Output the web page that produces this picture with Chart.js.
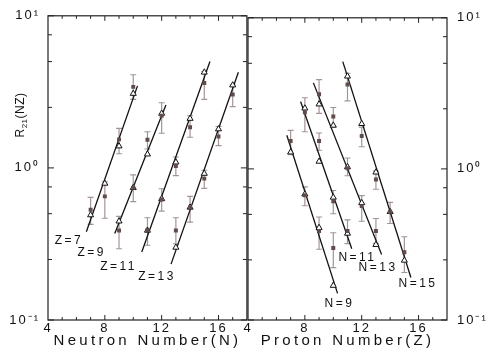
<!DOCTYPE html>
<html><head><meta charset="utf-8">
<script src="https://cdn.jsdelivr.net/npm/chart.js@4.4.1/dist/chart.umd.min.js"></script>
<style>
html,body{margin:0;padding:0;background:#fff;}
#wrap{position:relative;width:488px;height:353px;overflow:hidden;background:#fff;}
canvas{position:absolute;top:0;}
#cL{left:0;width:252px;height:353px;}
#cR{left:240px;width:248px;height:353px;}
</style></head><body>
<div id="wrap"><canvas id="cL" width="252" height="353"></canvas><canvas id="cR" width="248" height="353"></canvas></div>
<script>
// ---------- axis ticks ----------
const xTickValues = [4, 8, 12, 16];
const yMajor = [0.1, 1, 10];
const yMajorLabels = ['10\u207B\u00B9', '10\u2070', '10\u00B9'];
const yMinor = [0.25, 0.5, 0.75, 2.5, 5, 7.5];

// ---------- left panel: R21 vs neutron number N (fixed Z) ----------
const Z7_N = [7, 8, 9, 10];
const Z7_calc = [0.49, 0.79, 1.39, 3.08];
const Z7_exp = [0.53, 0.65, 1.54, 3.41];
const Z7_lo = [0.425, 0.467, 1.24, 2.82];
const Z7_hi = [0.64, 0.81, 1.82, 4.1];
const Z7_fitN = [6.7, 10.3];
const Z7_fitR = [0.38, 3.46];

const Z9_N = [9, 10, 11, 12];
const Z9_calc = [0.446, 0.74, 1.23, 2.28];
const Z9_exp = [0.388, 0.74, 1.53, 2.20];
const Z9_lo = [0.294, 0.60, 1.33, 1.69];
const Z9_hi = [0.48, 0.90, 1.73, 2.68];
const Z9_fitN = [8.7, 12.3];
const Z9_fitR = [0.37, 2.59];

const Z11_N = [11, 12, 13, 14, 15];
const Z11_calc = [0.388, 0.626, 1.09, 2.11, 4.25];
const Z11_exp = [0.39, 0.62, 1.03, 1.85, 3.62];
const Z11_lo = [0.31, 0.52, 0.89, 1.59, 2.82];
const Z11_hi = [0.47, 0.73, 1.18, 2.2, 4.3];
const Z11_fitN = [10.6, 15.4];
const Z11_fitR = [0.28, 5.0];

const Z13_N = [13, 14, 15, 16, 17];
const Z13_calc = [0.30, 0.55, 0.918, 1.80, 3.50];
const Z13_exp = [0.388, 0.55, 0.85, 1.61, 3.04];
const Z13_lo = [0.317, 0.44, 0.734, 1.40, 2.53];
const Z13_hi = [0.47, 0.65, 0.966, 1.87, 3.52];
const Z13_fitN = [12.66, 17.4];
const Z13_fitR = [0.233, 4.25];

// ---------- right panel: R21 vs proton number Z (fixed N) ----------
const N9_Z = [7, 8, 9, 10];
const N9_calc = [1.29, 0.68, 0.408, 0.169];
const N9_exp = [1.53, 0.67, 0.388, 0.30];
const N9_lo = [1.24, 0.57, 0.294, 0.222];
const N9_hi = [1.8, 0.76, 0.48, 0.378];
const N9_fitZ = [6.73, 10.3];
const N9_fitR = [1.67, 0.150];

const N11_Z = [8, 9, 10, 11];
const N11_calc = [2.52, 1.12, 0.648, 0.374];
const N11_exp = [2.37, 1.53, 0.61, 0.388];
const N11_lo = [1.76, 1.33, 0.505, 0.32];
const N11_hi = [2.96, 1.73, 0.72, 0.46];
const N11_fitZ = [7.7, 11.3];
const N11_fitR = [2.79, 0.296];

const N13_Z = [9, 10, 11, 12, 13];
const N13_calc = [2.68, 1.94, 1.03, 0.596, 0.315];
const N13_exp = [3.12, 2.22, 1.01, 0.567, 0.388];
const N13_lo = [2.33, 1.89, 0.90, 0.45, 0.32];
const N13_hi = [3.9, 2.55, 1.18, 0.665, 0.47];
const N13_fitZ = [8.6, 13.4];
const N13_fitR = [3.71, 0.271];

const N15_Z = [11, 12, 13, 14, 15];
const N15_calc = [4.1, 1.99, 0.95, 0.52, 0.248];
const N15_exp = [3.62, 1.65, 0.85, 0.52, 0.281];
const N15_lo = [2.82, 1.40, 0.734, 0.435, 0.206];
const N15_hi = [4.3, 1.89, 0.966, 0.60, 0.356];
const N15_fitZ = [10.67, 15.46];
const N15_fitR = [5.13, 0.191];

// ---------- styles ----------
const FONT = "'Liberation Sans', Arial, Helvetica, sans-serif";
const INK = '#111111';
const BAR = '#a39594';
const SQ = '#614c4c';

function groupDatasets(xs, calc, exp, lo, hi, fitX, fitY) {
  const bars = [], caps = [];
  xs.forEach((x, i) => {
    bars.push({x: x, y: lo[i]}, {x: x, y: hi[i]}, {x: x, y: null});
    caps.push({x: x, y: lo[i]}, {x: x, y: hi[i]});
  });
  return [
    {data: bars, showLine: true, spanGaps: false, borderColor: BAR, borderWidth: 1.2, pointRadius: 0, order: 5},
    {data: caps, pointStyle: 'line', pointRadius: 3, borderColor: BAR, borderWidth: 1.1, order: 5},
    {data: fitX.map((x, i) => ({x: x, y: fitY[i]})), showLine: true, borderColor: INK, borderWidth: 1.3, pointRadius: 0, order: 4},
    {data: calc.map((y, i) => ({x: xs[i], y: y})), pointStyle: 'triangle', pointRadius: 3.5, borderColor: INK, backgroundColor: '#ffffff', borderWidth: 1, order: 3},
    {data: exp.map((y, i) => ({x: xs[i], y: y})), pointStyle: 'rect', pointRadius: 2.8, backgroundColor: SQ, borderColor: SQ, borderWidth: 0, order: 2}
  ];
}

function drawSpaced(ctx, text, x, y, size, spacing, align) {
  ctx.save();
  ctx.font = size + 'px ' + FONT;
  ctx.letterSpacing = spacing + 'px';
  ctx.textAlign = align || 'center';
  ctx.textBaseline = 'middle';
  ctx.fillStyle = INK;
  ctx.fillText(text, x, y);
  ctx.restore();
}

const framePlugin = {
  id: 'frame',
  beforeDraw(chart) { chart.ctx.letterSpacing = '2px'; },
  afterDraw(chart, args, opts) {
    const ctx = chart.ctx, a = chart.chartArea, xs = chart.scales.x, ys = chart.scales.y;
    ctx.save();
    ctx.letterSpacing = '0px';
    ctx.strokeStyle = '#222';
    ctx.lineWidth = 1.2;
    ctx.strokeRect(a.left, a.top, a.right - a.left, a.bottom - a.top);
    ctx.lineWidth = 1;
    ctx.beginPath();
    const yt = (v, len) => {
      const p = ys.getPixelForValue(v);
      ctx.moveTo(a.left, p); ctx.lineTo(a.left + len, p);
      ctx.moveTo(a.right, p); ctx.lineTo(a.right - len, p);
    };
    yMajor.forEach(v => yt(v, 6));
    yMinor.forEach(v => yt(v, 4));
    for (let v = 5; v < 18; v++) {
      const len = xTickValues.includes(v) ? 5 : 3;
      const p = xs.getPixelForValue(v);
      ctx.moveTo(p, a.bottom); ctx.lineTo(p, a.bottom - len);
      ctx.moveTo(p, a.top); ctx.lineTo(p, a.top + len);
    }
    ctx.stroke();
    ctx.restore();

    (opts.labels || []).forEach(l => {
      drawSpaced(ctx, l.text, xs.getPixelForValue(l.x), ys.getPixelForValue(l.y), 12, 2.5);
    });
    if (opts.title) {
      drawSpaced(ctx, opts.title, (a.left + a.right) / 2, 341, 15, 3.3);
    }
    if (opts.yTitle) {
      ctx.save();
      ctx.translate(21, 115);
      ctx.rotate(-Math.PI / 2);
      ctx.fillStyle = INK;
      ctx.textBaseline = 'middle';
      ctx.textAlign = 'left';
      ctx.letterSpacing = '0.5px';
      ctx.font = '12px ' + FONT;
      const wR = ctx.measureText('R').width;
      const wP = ctx.measureText('(NZ)').width;
      ctx.font = '8px ' + FONT;
      const wS = ctx.measureText('21').width;
      let x0 = -(wR + wS + wP) / 2;
      ctx.font = '12px ' + FONT;
      ctx.fillText('R', x0, 0);
      ctx.font = '8px ' + FONT;
      ctx.fillText('21', x0 + wR, 3.5);
      ctx.font = '12px ' + FONT;
      ctx.fillText('(NZ)', x0 + wR + wS, 0);
      ctx.restore();
    }
  }
};

function makeChart(id, datasets, cfg) {
  return new Chart(document.getElementById(id), {
    type: 'scatter',
    data: {datasets: datasets},
    options: {
      responsive: false, animation: false, devicePixelRatio: 1, events: [],
      layout: {padding: cfg.padding},
      plugins: {legend: {display: false}, tooltip: {enabled: false}, frame: cfg.frame},
      scales: {
        x: {
          type: 'linear', min: 4, max: 18,
          grid: {display: false, drawTicks: false}, border: {display: false},
          afterBuildTicks: s => { s.ticks = xTickValues.map(v => ({value: v})); },
          afterFit: s => { s.height = 33; },
          ticks: {font: {family: FONT, size: 13}, color: INK, padding: 1, maxRotation: 0, autoSkip: false}
        },
        y: {
          type: 'logarithmic', position: cfg.yPos, min: 0.1, max: 10,
          grid: {display: false, drawTicks: false}, border: {display: false},
          afterBuildTicks: s => { s.ticks = yMajor.map(v => ({value: v})); },
          afterFit: s => { s.width = cfg.yWidth; },
          ticks: {font: {family: FONT, size: 13}, color: INK, padding: cfg.yPad,
                  callback: v => { const i = yMajor.indexOf(v); return i >= 0 ? yMajorLabels[i] : ''; }}
        }
      }
    },
    plugins: [framePlugin]
  });
}

const leftSets = [].concat(
  groupDatasets(Z7_N, Z7_calc, Z7_exp, Z7_lo, Z7_hi, Z7_fitN, Z7_fitR),
  groupDatasets(Z9_N, Z9_calc, Z9_exp, Z9_lo, Z9_hi, Z9_fitN, Z9_fitR),
  groupDatasets(Z11_N, Z11_calc, Z11_exp, Z11_lo, Z11_hi, Z11_fitN, Z11_fitR),
  groupDatasets(Z13_N, Z13_calc, Z13_exp, Z13_lo, Z13_hi, Z13_fitN, Z13_fitR)
);
const rightSets = [].concat(
  groupDatasets(N9_Z, N9_calc, N9_exp, N9_lo, N9_hi, N9_fitZ, N9_fitR),
  groupDatasets(N11_Z, N11_calc, N11_exp, N11_lo, N11_hi, N11_fitZ, N11_fitR),
  groupDatasets(N13_Z, N13_calc, N13_exp, N13_lo, N13_hi, N13_fitZ, N13_fitR),
  groupDatasets(N15_Z, N15_calc, N15_exp, N15_lo, N15_hi, N15_fitZ, N15_fitR)
);

makeChart('cL', leftSets, {
  padding: {top: 12, right: 4, left: 0, bottom: 0},
  yPos: 'left', yWidth: 48, yPad: 8,
  frame: {
    title: 'Neutron Number(N)', yTitle: true,
    labels: [
      {text: 'Z=7', x: 5.47, y: 0.331},
      {text: 'Z=9', x: 7.08, y: 0.277},
      {text: 'Z=11', x: 8.97, y: 0.224},
      {text: 'Z=13', x: 11.67, y: 0.193}
    ]
  }
});
makeChart('cR', rightSets, {
  padding: {top: 12, right: 0, left: 8, bottom: 0},
  yPos: 'right', yWidth: 41, yPad: 10,
  frame: {
    title: 'Proton Number(Z)', yTitle: false,
    labels: [
      {text: 'N=11', x: 11.7, y: 0.258},
      {text: 'N=13', x: 13.15, y: 0.222},
      {text: 'N=15', x: 15.96, y: 0.174},
      {text: 'N=9', x: 10.44, y: 0.129}
    ]
  }
});
</script></body></html>
